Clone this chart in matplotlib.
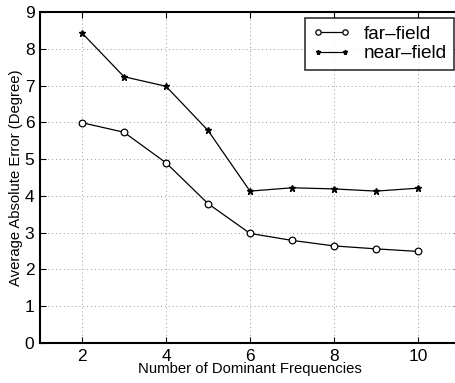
import matplotlib
matplotlib.use("Agg")
import matplotlib.pyplot as plt

plt.rcParams["font.family"] = ["Liberation Sans", "DejaVu Sans"]

num_freqs = [2, 3, 4, 5, 6, 7, 8, 9, 10]
far_field = [5.99, 5.73, 4.90, 3.79, 2.98, 2.79, 2.64, 2.56, 2.49]
near_field = [8.43, 7.24, 6.98, 5.78, 4.13, 4.22, 4.19, 4.13, 4.21]

fig = plt.figure(figsize=(4.56, 3.83), dpi=100)
ax = fig.add_axes([0.0877, 0.1044, 0.921, 0.8643])

ax.plot(num_freqs, far_field, color="black", lw=0.9, marker="o", ms=4.8,
        mfc="white", mec="black", mew=0.9, label="far\u2013field")
ax.plot(num_freqs, near_field, color="black", lw=0.9, marker="*", ms=4.5,
        mfc="black", mec="black", label="near\u2013field")

ax.set_xlim(1, 11)
ax.set_ylim(0, 9)
ax.set_xticks([2, 4, 6, 8, 10])
ax.set_yticks(range(10))
ax.tick_params(direction="in", top=True, right=True, labelsize=12.5, length=4,
               width=0.8, pad=4)
ax.grid(True, color="#999999", linestyle=(0, (1, 3)), lw=0.7)
for sp in ax.spines.values():
    sp.set_linewidth(1.5)

ax.set_xlabel("Number of Dominant Frequencies", fontsize=10.7, labelpad=-1)
ax.set_ylabel("Average Absolute Error (Degree)", fontsize=10.7, labelpad=1)

leg = ax.legend(loc="upper right", bbox_to_anchor=(0.9866, 0.982),
                fontsize=13.7, frameon=True, fancybox=False, edgecolor="black",
                borderpad=0.4, handlelength=2.0, handletextpad=0.7,
                labelspacing=0.12, borderaxespad=0, numpoints=2,
                markerscale=0.8)
leg.get_frame().set_linewidth(1.2)

fig.savefig("out.png", dpi=100)
